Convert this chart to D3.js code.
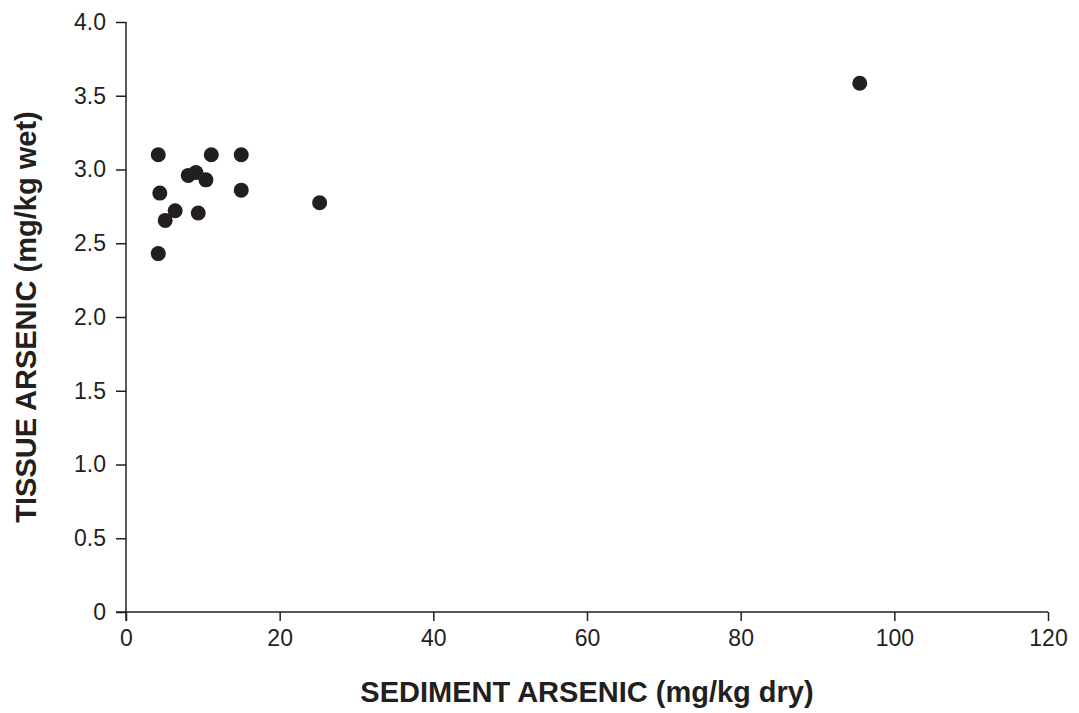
<!DOCTYPE html>
<html><head><meta charset="utf-8">
<script src="https://cdn.jsdelivr.net/npm/d3@7"></script>
<style>body{margin:0;background:#fff}svg{display:block}</style>
</head><body>
<svg id="c" width="1079" height="713"></svg>
<script>
const sedimentArsenic = [4.2, 11.1, 15.0, 8.1, 9.1, 10.4, 4.4, 15.0, 25.2, 6.4, 9.4, 5.1, 4.2, 95.5];
const tissueArsenic   = [3.10, 3.10, 3.10, 2.96, 2.98, 2.93, 2.84, 2.86, 2.775, 2.72, 2.705, 2.655, 2.43, 3.585];
const xTicks = [0, 20, 40, 60, 80, 100, 120];
const yTicks = [0, 0.5, 1.0, 1.5, 2.0, 2.5, 3.0, 3.5, 4.0];
const xTitle = "SEDIMENT ARSENIC (mg/kg dry)";
const yTitle = "TISSUE ARSENIC (mg/kg wet)";

const ink = "#231f20";
const font = "Liberation Sans, Arial, sans-serif";
const svg = d3.select("#c");
const x = d3.scaleLinear().domain([0, 120]).range([126, 1048]);
const y = d3.scaleLinear().domain([0, 4]).range([612, 22]);

const xa = svg.append("g").attr("transform", "translate(0,612)")
  .call(d3.axisBottom(x).tickValues(xTicks).tickSize(9).tickPadding(9).tickFormat(d3.format("d")));
const ya = svg.append("g").attr("transform", "translate(126,0)")
  .call(d3.axisLeft(y).tickValues(yTicks).tickSize(10).tickPadding(10).tickFormat(d => d === 0 ? "0" : d3.format(".1f")(d)));
[xa, ya].forEach(g => {
  g.selectAll(".tick line").attr("stroke", ink).attr("stroke-width", 1.5);
  g.selectAll(".tick text").attr("fill", ink).style("font-family", font).style("font-size", "23px");
});
ya.select(".domain").attr("stroke", ink).attr("stroke-width", 1.5).attr("d", "M0,22V621");
xa.select(".domain").attr("stroke", ink).attr("stroke-width", 1.5).attr("d", "M116,0H1048");

svg.append("g").selectAll("circle").data(sedimentArsenic).join("circle")
  .attr("cx", d => x(d)).attr("cy", (d, i) => y(tissueArsenic[i])).attr("r", 7.5).attr("fill", ink);

svg.append("text").attr("x", 587).attr("y", 702).attr("text-anchor", "middle")
  .attr("fill", ink).style("font-family", font).style("font-weight", "bold").style("font-size", "29px")
  .text(xTitle);
svg.append("text").attr("transform", "translate(36,317) rotate(-90)").attr("text-anchor", "middle")
  .attr("fill", ink).style("font-family", font).style("font-weight", "bold").style("font-size", "29px")
  .text(yTitle);
</script>
</body></html>
